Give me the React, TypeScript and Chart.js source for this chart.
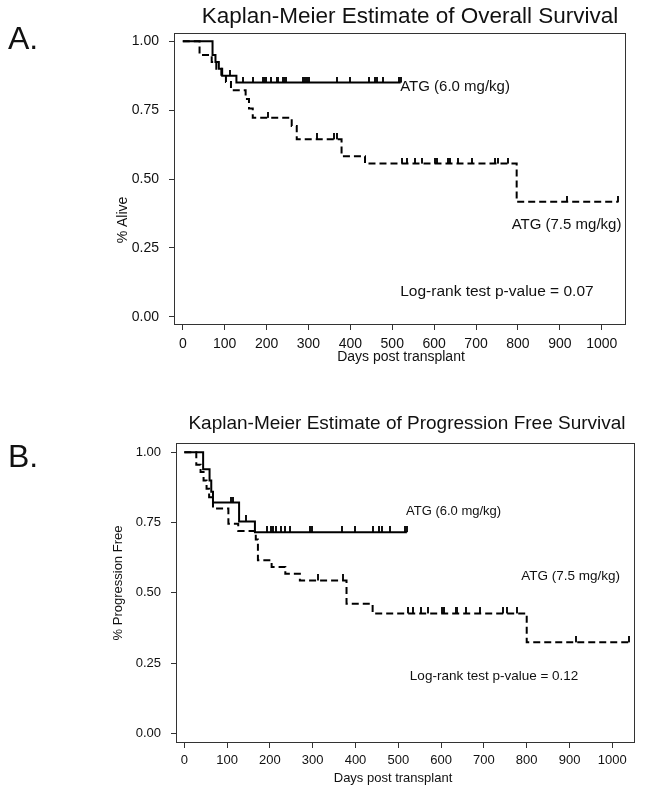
import React, { useEffect, useRef } from "react";
import { Chart, registerables } from "chart.js";

Chart.register(...registerables);

// ---------- data ----------
const X_TICK_VALUES = [0, 100, 200, 300, 400, 500, 600, 700, 800, 900, 1000];
const Y_TICK_VALUES = [0, 0.25, 0.5, 0.75, 1];
const Y_TICK_LABELS = ["0.00", "0.25", "0.50", "0.75", "1.00"];

// A. Overall survival
const OS_LOW_DAYS = [0, 71, 78, 86, 94, 128, 520];
const OS_LOW_SURV = [1, 0.95, 0.925, 0.9, 0.875, 0.85, 0.85];
const OS_LOW_CENSOR = [112, 143, 167, 191, 195, 199, 211, 224, 228, 239, 243, 247, 288, 291, 294, 297, 301, 368, 399, 445, 459, 463, 479, 515, 520];

const OS_HIGH_DAYS = [0, 40, 69, 80, 92, 103, 115, 150, 158, 167, 260, 272, 379, 435, 797, 1040];
const OS_HIGH_SURV = [1, 0.95, 0.925, 0.9, 0.878, 0.852, 0.822, 0.79, 0.756, 0.722, 0.692, 0.644, 0.583, 0.556, 0.417, 0.417];
const OS_HIGH_CENSOR = [204, 320, 362, 368, 523, 535, 554, 570, 602, 606, 634, 638, 658, 690, 745, 753, 777, 916, 1040];

// B. Progression free survival
const PFS_LOW_DAYS = [0, 44, 59, 63, 67, 128, 165, 520];
const PFS_LOW_SURV = [1, 0.94, 0.9, 0.86, 0.821, 0.754, 0.716, 0.716];
const PFS_LOW_CENSOR = [109, 114, 144, 193, 203, 208, 214, 226, 235, 247, 293, 298, 368, 399, 442, 456, 461, 481, 516, 520];

const PFS_HIGH_DAYS = [0, 28, 38, 45, 52, 58, 67, 103, 126, 167, 172, 204, 236, 270, 379, 440, 800, 1040];
const PFS_HIGH_SURV = [1, 0.956, 0.93, 0.9, 0.87, 0.84, 0.8, 0.746, 0.72, 0.69, 0.616, 0.592, 0.568, 0.544, 0.461, 0.427, 0.324, 0.324];
const PFS_HIGH_CENSOR = [313, 371, 523, 535, 554, 570, 602, 606, 634, 638, 658, 690, 745, 753, 777, 916, 1040];

// ---------- helpers ----------
const FONT = "'Liberation Sans', Arial, Helvetica, sans-serif";

function stepPoints(days: number[], surv: number[]) {
  return days.map((d, i) => ({ x: d, y: surv[i] }));
}

function survAt(days: number[], surv: number[], t: number) {
  let v = surv[0];
  for (let i = 0; i < days.length; i++) {
    if (days[i] <= t) v = surv[i];
  }
  return v;
}

function censorPoints(days: number[], surv: number[], censor: number[]) {
  return censor.map((t) => ({ x: t, y: survAt(days, surv, t) }));
}

function tickImage(len: number) {
  const c = document.createElement("canvas");
  c.width = 2;
  c.height = len * 2;
  const g = c.getContext("2d")!;
  g.fillStyle = "#111";
  g.fillRect(0, 0, 2, len);
  return c;
}

type Txt = { text: string; x: number; y: number; size: number; align?: CanvasTextAlign; rotate?: boolean; data?: boolean };

const panelPlugin = {
  id: "panelDeco",
  afterDraw(chart: any, _args: any, opts: any) {
    const { ctx, chartArea: a } = chart;
    ctx.save();
    ctx.strokeStyle = "#333";
    ctx.lineWidth = 1;
    ctx.strokeRect(Math.round(a.left) + 0.5, Math.round(a.top) + 0.5, Math.round(a.right - a.left) - 1, Math.round(a.bottom - a.top) - 1);
    ctx.fillStyle = "#111";
    ctx.textBaseline = "middle";
    (opts.texts as Txt[]).forEach((t) => {
      ctx.font = `${t.size}px ${FONT}`;
      ctx.textAlign = t.align || "center";
      let x = t.x;
      let y = t.y;
      if (t.data) {
        x = chart.scales.x.getPixelForValue(t.x);
        y = chart.scales.y.getPixelForValue(t.y);
      }
      if (t.rotate) {
        ctx.save();
        ctx.translate(x, y);
        ctx.rotate(-Math.PI / 2);
        ctx.fillText(t.text, 0, 0);
        ctx.restore();
      } else {
        ctx.fillText(t.text, x, y);
      }
    });
    ctx.restore();
  },
};

type PanelSpec = {
  width: number;
  height: number;
  area: { left: number; right: number; top: number; bottom: number };
  xRange: [number, number];
  yRange: [number, number];
  tickFontX: number;
  tickFontY: number;
  xTickPad: number;
  yTickPad: number;
  low: { days: number[]; surv: number[]; censor: number[] };
  high: { days: number[]; surv: number[]; censor: number[] };
  texts: Txt[];
};

function buildConfig(p: PanelSpec): any {
  const img = tickImage(6);
  const mk = (g: { days: number[]; surv: number[]; censor: number[] }, dashed: boolean) => [
    {
      data: stepPoints(g.days, g.surv),
      borderColor: "#000",
      borderWidth: 2,
      borderDash: dashed ? [7, 4] : [],
      stepped: "before",
      pointRadius: 0,
      fill: false,
      tension: 0,
    },
    {
      data: censorPoints(g.days, g.surv, g.censor),
      showLine: false,
      pointStyle: img,
      pointRadius: 3,
      borderColor: "#000",
      backgroundColor: "#000",
    },
  ];
  const xAxisH = p.height - p.area.bottom - 10;
  return {
    type: "line",
    data: { datasets: [...mk(p.low, false), ...mk(p.high, true)] },
    options: {
      animation: false,
      responsive: false,
      maintainAspectRatio: false,
      events: [],
      layout: { padding: { left: 0, top: p.area.top, right: p.width - p.area.right, bottom: 10 } },
      plugins: {
        legend: { display: false },
        tooltip: { enabled: false },
        title: { display: false },
        panelDeco: { texts: p.texts },
      },
      scales: {
        x: {
          type: "linear",
          min: p.xRange[0],
          max: p.xRange[1],
          afterBuildTicks: (s: any) => {
            s.ticks = X_TICK_VALUES.map((v) => ({ value: v }));
          },
          afterFit: (s: any) => {
            s.height = xAxisH;
          },
          border: { display: false },
          grid: { drawOnChartArea: false, drawTicks: true, tickLength: 5, color: "#333", lineWidth: 1 },
          ticks: {
            autoSkip: false,
            maxRotation: 0,
            padding: p.xTickPad,
            color: "#111",
            font: { family: FONT, size: p.tickFontX },
            callback: (v: any) => String(v),
          },
        },
        y: {
          type: "linear",
          min: p.yRange[0],
          max: p.yRange[1],
          afterBuildTicks: (s: any) => {
            s.ticks = Y_TICK_VALUES.map((v) => ({ value: v }));
          },
          afterFit: (s: any) => {
            s.width = p.area.left;
          },
          border: { display: false },
          grid: { drawOnChartArea: false, drawTicks: true, tickLength: 5, color: "#333", lineWidth: 1 },
          ticks: {
            autoSkip: false,
            padding: p.yTickPad,
            color: "#111",
            font: { family: FONT, size: p.tickFontY },
            callback: (v: any) => {
              const i = Y_TICK_VALUES.indexOf(v);
              return i >= 0 ? Y_TICK_LABELS[i] : "";
            },
          },
        },
      },
    },
    plugins: [panelPlugin],
  };
}

const PANEL_A: PanelSpec = {
  width: 645,
  height: 395,
  area: { left: 174, right: 626, top: 33, bottom: 325 },
  xRange: [-21, 1058],
  yRange: [-0.03, 1.03],
  tickFontX: 14,
  tickFontY: 14,
  xTickPad: 6,
  yTickPad: 10,
  low: { days: OS_LOW_DAYS, surv: OS_LOW_SURV, censor: OS_LOW_CENSOR },
  high: { days: OS_HIGH_DAYS, surv: OS_HIGH_SURV, censor: OS_HIGH_CENSOR },
  texts: [
    { text: "A.", x: 8, y: 40, size: 32, align: "left" },
    { text: "Kaplan-Meier Estimate of Overall Survival", x: 410, y: 17, size: 22.5 },
    { text: "Days post transplant", x: 401, y: 357, size: 14 },
    { text: "% Alive", x: 123, y: 220, size: 14, rotate: true },
    { text: "ATG (6.0 mg/kg)", x: 519, y: 0.835, size: 15, align: "left", data: true },
    { text: "ATG (7.5 mg/kg)", x: 785, y: 0.332, size: 15, align: "left", data: true },
    { text: "Log-rank test p-value = 0.07", x: 519, y: 0.092, size: 15.5, align: "left", data: true },
  ],
};

const PANEL_B: PanelSpec = {
  width: 645,
  height: 398,
  area: { left: 176, right: 635, top: 48, bottom: 348 },
  xRange: [-19.4, 1053],
  yRange: [-0.034, 1.033],
  tickFontX: 13,
  tickFontY: 13,
  xTickPad: 5,
  yTickPad: 10,
  low: { days: PFS_LOW_DAYS, surv: PFS_LOW_SURV, censor: PFS_LOW_CENSOR },
  high: { days: PFS_HIGH_DAYS, surv: PFS_HIGH_SURV, censor: PFS_HIGH_CENSOR },
  texts: [
    { text: "B.", x: 8, y: 63, size: 32, align: "left" },
    { text: "Kaplan-Meier Estimate of Progression Free Survival", x: 407, y: 29, size: 19 },
    { text: "Days post transplant", x: 393, y: 383, size: 13 },
    { text: "% Progression Free", x: 118, y: 188, size: 13, rotate: true },
    { text: "ATG (6.0 mg/kg)", x: 518, y: 0.788, size: 13, align: "left", data: true },
    { text: "ATG (7.5 mg/kg)", x: 787, y: 0.56, size: 13.5, align: "left", data: true },
    { text: "Log-rank test p-value = 0.12", x: 527, y: 0.204, size: 13.5, align: "left", data: true },
  ],
};

function KMPanel({ spec, top }: { spec: PanelSpec; top: number }) {
  const ref = useRef<HTMLCanvasElement | null>(null);
  useEffect(() => {
    if (!ref.current) return;
    const chart = new Chart(ref.current, buildConfig(spec));
    return () => chart.destroy();
  }, [spec]);
  return (
    <canvas
      ref={ref}
      width={spec.width}
      height={spec.height}
      style={{ position: "absolute", left: 0, top, width: spec.width, height: spec.height }}
    />
  );
}

export default function App() {
  return (
    <div style={{ position: "fixed", left: 0, top: 0, width: 645, height: 793, background: "#fff", overflow: "hidden" }}>
      <KMPanel spec={PANEL_A} top={0} />
      <KMPanel spec={PANEL_B} top={395} />
    </div>
  );
}
